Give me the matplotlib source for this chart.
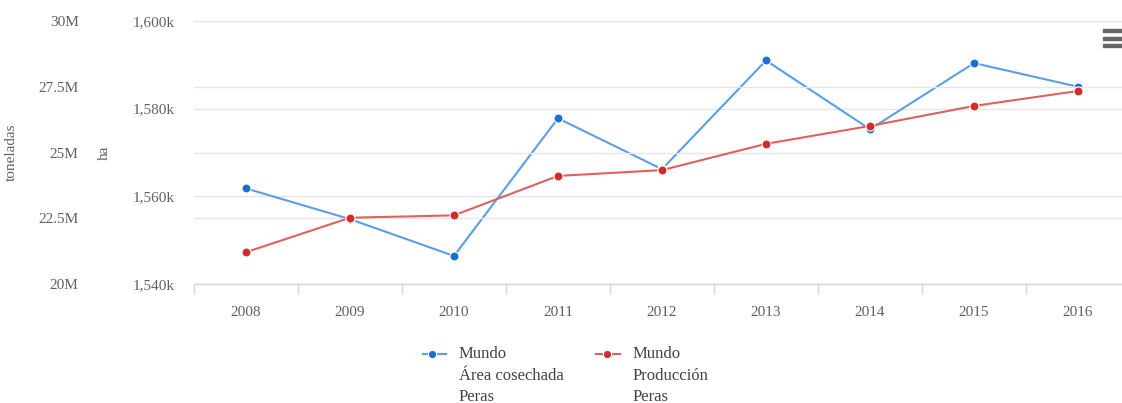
import matplotlib.pyplot as plt
from matplotlib.lines import Line2D
from matplotlib.patches import Rectangle
from matplotlib.ticker import FuncFormatter

plt.rcParams['font.family'] = ['Liberation Serif', 'DejaVu Serif']

# Pear data, world totals
years = ['2008', '2009', '2010', '2011', '2012', '2013', '2014', '2015', '2016']
area_ha = [1561.8, 1554.8, 1546.4, 1577.8, 1566.2, 1591.0, 1575.3, 1590.4, 1585.0]   # thousand ha
prod_t = [21.21, 22.52, 22.61, 24.11, 24.33, 25.33, 26.01, 26.77, 27.34]           # million t

ha_ticks = [1540, 1560, 1580, 1600]
t_ticks = [20, 22.5, 25, 27.5, 30]

blue_line, blue_dot = '#5b9ee6', '#1a6fd4'
red_line, red_dot = '#e06060', '#d42a2a'
grid_c = '#e6e6e6'
axis_c = '#d6d6d6'
label_c = '#606060'

W, H = 1122, 403
fig = plt.figure(figsize=(W / 100, H / 100), dpi=100)

# plot area in pixels: x 194..1130 (runs past the right edge), y 21..284
ax = fig.add_axes([194 / W, (H - 284) / H, (1130 - 194) / W, (284 - 21) / H])
ax2 = ax.twinx()

x = list(range(len(years)))

ax.set_xlim(-0.5, len(years) - 0.5)
ax.set_ylim(1540, 1600)
ax2.set_ylim(20, 30)

# horizontal grids for both scales
for v in ha_ticks:
    ax.axhline(v, color=grid_c, lw=1, zorder=0)
for v in t_ticks:
    ax2.axhline(v, color=grid_c, lw=1, zorder=0)

ax.plot(x, area_ha, color=blue_line, lw=1.5, marker='o', ms=6.5,
        mfc=blue_dot, mec='white', mew=0.8, zorder=3)
ax2.plot(x, prod_t, color=red_line, lw=1.5, marker='o', ms=6.5,
         mfc=red_dot, mec='white', mew=0.8, zorder=3)

for a in (ax, ax2):
    for s in a.spines.values():
        s.set_visible(False)
ax.spines['bottom'].set_visible(True)
ax.spines['bottom'].set_color(axis_c)
ax.spines['bottom'].set_linewidth(1)

# category axis: labels in the middle of each band, ticks on the band edges
ax.set_xticks(x)
ax.set_xticklabels(years)
ax.set_xticks([i - 0.5 for i in range(len(years) + 1)], minor=True)
ax.tick_params(axis='x', which='major', length=0, pad=16, labelsize=11, labelcolor=label_c)
ax.tick_params(axis='x', which='minor', length=7.5, width=1, color=axis_c)

ax.set_yticks(ha_ticks)
ax.yaxis.set_major_formatter(FuncFormatter(lambda v, p: f'{int(v):,}k'))
ax.tick_params(axis='y', length=0, pad=14, labelsize=11, labelcolor=label_c)
ax.set_ylabel('ha', fontsize=11, color=label_c)
ax.yaxis.set_label_coords((111 - 194) / (1130 - 194), 0.5)

ax2.yaxis.set_ticks_position('left')
ax2.yaxis.set_label_position('left')
ax2.set_yticks(t_ticks)
ax2.yaxis.set_major_formatter(FuncFormatter(lambda v, p: f'{v:g}M'))
ax2.tick_params(axis='y', length=0, pad=83, labelsize=11, labelcolor=label_c)
ax2.set_ylabel('toneladas', fontsize=11, color=label_c)
ax2.yaxis.set_label_coords((18 - 194) / (1130 - 194), 0.5)

# legend drawn in figure pixels, marker on the first text line
legend_items = [
    (423, 446, 432, 459, blue_line, blue_dot, ['Mundo', 'Área cosechada', 'Peras']),
    (596, 620, 607, 633, red_line, red_dot, ['Mundo', 'Producción', 'Peras']),
]
for x0, x1, xm, xt, lc, mc, lines in legend_items:
    y0 = 1 - 354 / H
    fig.add_artist(Line2D([x0 / W, x1 / W], [y0, y0], color=lc, lw=1.5,
                          transform=fig.transFigure))
    fig.add_artist(Line2D([xm / W], [y0], marker='o', ms=6, mfc=mc, mec='white',
                          mew=0.8, color=lc, transform=fig.transFigure))
    for k, s in enumerate(lines):
        fig.text(xt / W, 1 - (354 + 21.5 * k) / H, s, fontsize=12, color='#444444',
                 ha='left', va='center')

# export menu icon
for yb in (29, 37, 44):
    fig.add_artist(Rectangle((1103 / W, 1 - (yb + 3) / H), 20 / W, 3 / H,
                             color='#666666', transform=fig.transFigure))

fig.savefig('out.png', dpi=100)
